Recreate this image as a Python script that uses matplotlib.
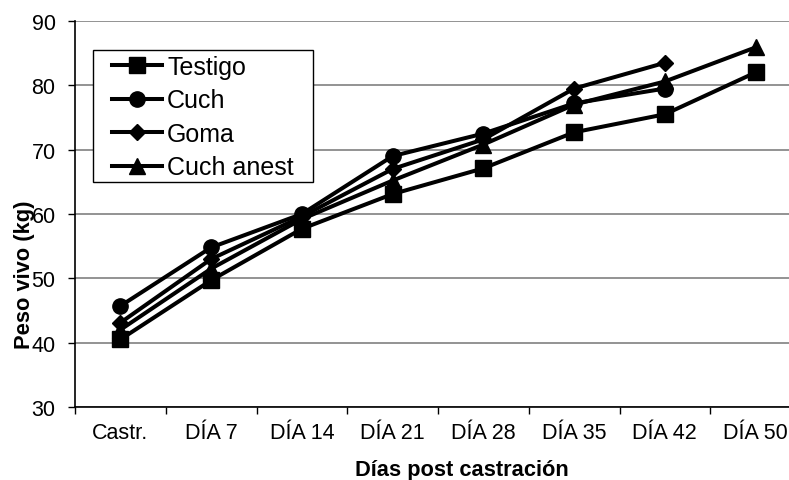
import matplotlib
matplotlib.use("Agg")
import matplotlib.pyplot as plt
from matplotlib.patches import Rectangle
import numpy as np

plt.rcParams['font.family'] = ['Liberation Sans', 'DejaVu Sans']

categories = ['Castr.', 'DÍA 7', 'DÍA 14', 'DÍA 21', 'DÍA 28', 'DÍA 35', 'DÍA 42', 'DÍA 50']
testigo = [40.5, 49.7, 57.7, 63.1, 67.1, 72.7, 75.5, 82.0]
cuch = [45.7, 54.8, 60.0, 69.0, 72.5, 77.2, 79.5]
goma = [43.1, 53.0, 59.6, 67.0, 71.6, 79.5, 83.5]
cuch_anest = [42.0, 51.5, 59.2, 65.2, 70.8, 77.0, 80.6, 85.9]

fig = plt.figure(figsize=(7.89, 4.81), dpi=100)
ax = fig.add_axes([75 / 789, 73 / 481, 726 / 789, 386 / 481])

x = np.arange(len(categories))
lw = 2.9
ax.plot(x, testigo, color='black', lw=lw, marker='s', ms=11, label='Testigo')
ax.plot(x[:len(cuch)], cuch, color='black', lw=lw, marker='o', ms=11, label='Cuch')
ax.plot(x[:len(goma)], goma, color='black', lw=lw, marker='D', ms=8.5, label='Goma')
ax.plot(x, cuch_anest, color='black', lw=lw, marker='^', ms=11, label='Cuch anest')

ax.set_xlim(-0.5, len(categories) - 0.5)
ax.set_ylim(30, 90)
ax.set_yticks(range(30, 91, 10))
ax.yaxis.grid(True, color='#808080', lw=1.2)
ax.set_axisbelow(True)

ax.set_xticks(x)
ax.set_xticklabels(categories, fontsize=15.5)
ax.set_xticks(np.arange(-0.5, len(categories), 1), minor=True)
ax.tick_params(axis='x', which='major', length=0, pad=11)
ax.tick_params(axis='x', which='minor', length=5, width=1, direction='out')
ax.tick_params(axis='y', length=5, width=1, labelsize=15.5, pad=9)

for s in ['top', 'right']:
    ax.spines[s].set_visible(False)
for s in ['left', 'bottom']:
    ax.spines[s].set_linewidth(1.2)

ax.set_xlabel('Días post castración', fontsize=15.75, fontweight='bold')
ax.xaxis.set_label_coords((462 - 75) / 726, (408 - 460) / 386)
ax.set_ylabel('Peso vivo (kg)', fontsize=15.75, fontweight='bold')
ax.yaxis.set_label_coords((35 - 75) / 726, (408 - 275) / 386)

# legend box
box = Rectangle((93 / 789, 1 - 183 / 481), 220 / 789, 132 / 481, transform=fig.transFigure,
                facecolor='white', edgecolor='black', lw=1, zorder=4)
box.set_clip_on(False)
ax.add_artist(box)

leg = ax.legend(loc='upper left', bbox_to_anchor=((112 - 75) / 726, 1 - (56 - 22) / 386),
                fontsize=18, frameon=False, handlelength=2.0, handletextpad=0.2,
                borderpad=0, labelspacing=0.38, borderaxespad=0)
leg.set_zorder(5)

fig.savefig('out.png', dpi=100)
